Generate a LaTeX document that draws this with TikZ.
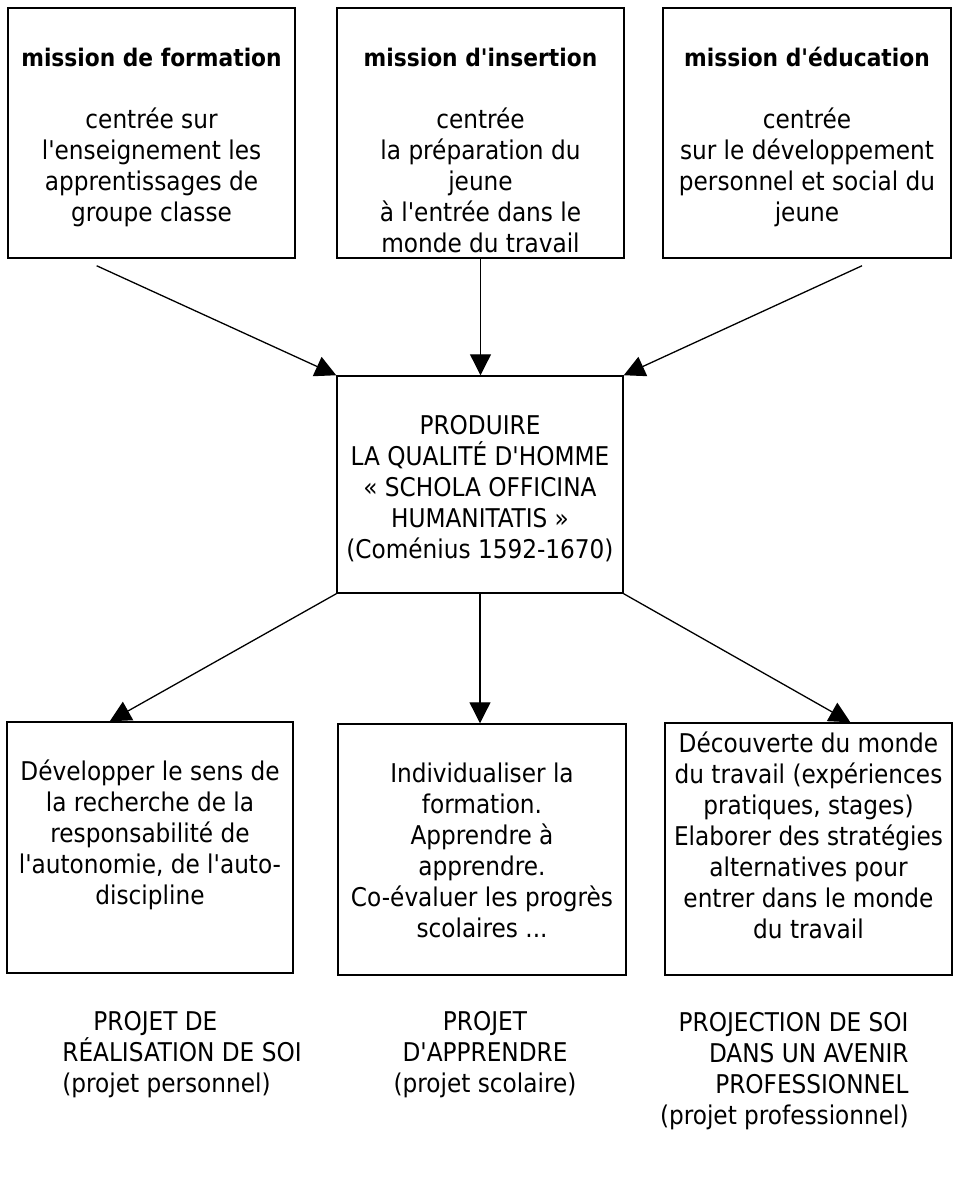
\documentclass[tikz,border=0pt]{standalone}
\usepackage{fontspec}
\IfFontExistsTF{DejaVu Sans Condensed}{\setmainfont{DejaVu Sans Condensed}[Ligatures=TeXOff]}{\setmainfont{DejaVu Sans}[Scale=0.9,Ligatures=TeXOff]}
\usetikzlibrary{arrows.meta,fit,calc}
\newcommand{\ttl}[1]{{\fontsize{12.1pt}{15.5pt}\selectfont\bfseries #1}}
\begin{document}
\begin{tikzpicture}[x=0.5pt,y=-0.5pt,
  box/.style={draw, line width=0.75pt, inner sep=0pt},
  txt/.style={font=\fontsize{12.9pt}{15.5pt}\selectfont, align=center, inner sep=0pt},
  arr/.style={line width=0.65pt, -{Triangle[length=10.5pt,width=10.5pt]}}]
\useasboundingbox (0,0) rectangle (957,1185);
% top boxes
\node[box, fit={(8,8) (295,258)}] (m1) {};
\node[box, fit={(337,8) (624,258)}] (m2) {};
\node[box, fit={(663,8) (951,258)}] (m3) {};
\node[txt] (t1) at (151.5,137.5) {\ttl{mission de formation}\\[15.5pt]centrée sur\\l'enseignement les\\apprentissages de\\groupe classe};
\node[txt] (t2) at (480.5,150.5) {\ttl{mission d'insertion}\\[15.5pt]centrée\\la préparation du\\jeune\\à l'entrée dans le\\monde du travail};
\node[txt] (t3) at (807,137) {\ttl{mission d'éducation}\\[15.5pt]centrée\\sur le développement\\personnel et social du\\jeune};
% centre
\node[box, fit={(337,376) (623,593)}] (c) {};
\node[txt] (tc) at (480,489) {PRODUIRE\\LA QUALITÉ D'HOMME\\« SCHOLA OFFICINA\\HUMANITATIS »\\(Coménius 1592-1670)};
% bottom boxes
\node[box, fit={(7,722) (293,973)}] (b1) {};
\node[box, fit={(338,724) (626,975)}] (b2) {};
\node[box, fit={(665,723) (952,975)}] (b3) {};
\node[txt] (u1) at (150,835) {Développer le sens de\\la recherche de la\\responsabilité de\\l'autonomie, de l'auto-\\discipline};
\node[txt] (u2) at (482,850) {Individualiser la\\formation.\\Apprendre à\\apprendre.\\Co-évaluer les progrès\\scolaires ...};
\node[txt] (u3) at (808.5,835) {Découverte du monde\\du travail (expériences\\pratiques, stages)\\Elaborer des stratégies\\alternatives pour\\entrer dans le monde\\du travail};
% bottom labels
\node[txt, align=left, anchor=west] (p1) at (62,1055) {\hspace*{15.5pt}PROJET DE\\RÉALISATION DE SOI\\(projet personnel)};
\node[txt] (p2) at (485,1055) {PROJET\\D'APPRENDRE\\(projet scolaire)};
\node[txt, align=right, anchor=east] (p3) at (909,1071) {PROJECTION DE SOI\\DANS UN AVENIR\\PROFESSIONNEL\hspace*{3pt}\\(projet professionnel)};
% connectors
\coordinate (s1) at ($(m1.south west)!0.31!(m1.south east)+(0,7)$);
\coordinate (s3) at ($(m3.south west)!0.69!(m3.south east)+(0,7)$);
\draw[arr] (s1) -- (c.north west);
\draw[arr] (m2.south) -- (m2.south |- c.north);
\draw[arr] (s3) -- (c.north east);
\coordinate (e1) at ($(b1.north west)!0.36!(b1.north east)$);
\coordinate (e3) at ($(b3.north west)!0.645!(b3.north east)$);
\draw[arr] (c.south west) -- (e1);
\draw[arr] (c.south) -- (c.south |- b2.north);
\draw[arr] (c.south east) -- (e3);
\end{tikzpicture}
\end{document}
